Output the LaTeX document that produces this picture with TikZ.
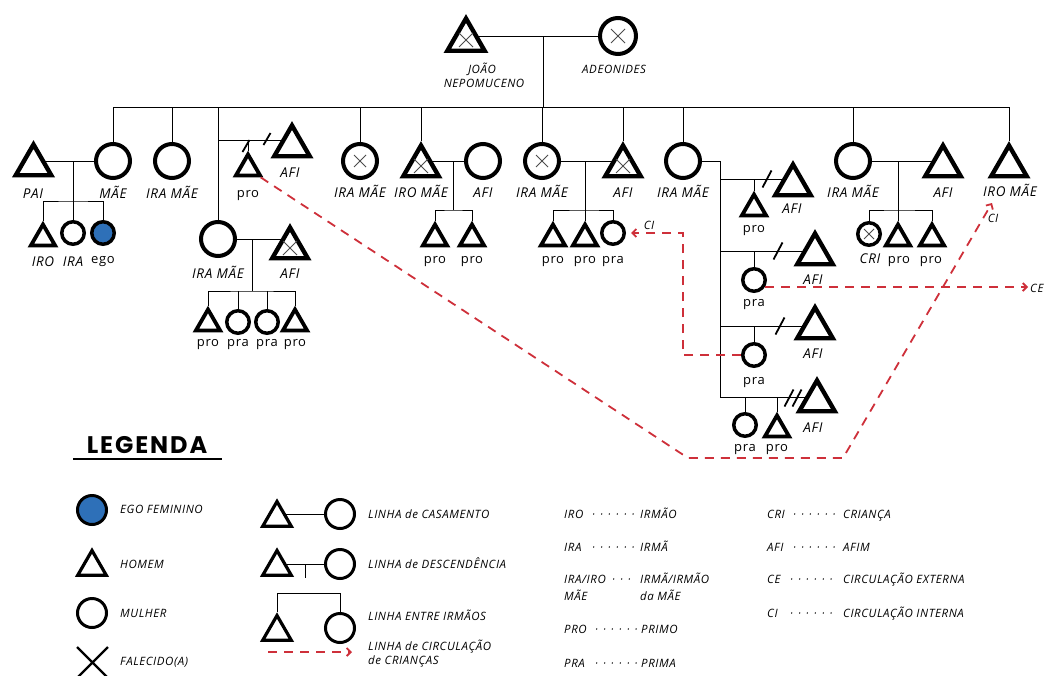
\documentclass[tikz,border=0pt]{standalone}
\usepackage{fontspec}
\setmainfont{Open Sans}
\newfontfamily\labfont{Open Sans}[LetterSpace=5]
\newfontfamily\legfont{Poppins}[LetterSpace=8]
\usetikzlibrary{shapes.geometric,arrows.meta,backgrounds}
\definecolor{egoblue}{RGB}{46,112,184}
\definecolor{circred}{RGB}{206,48,58}
\newcommand\labit{\labfont\itshape\fontsize{13.5}{15}\selectfont}
\newcommand\labup{\labfont\upshape\fontsize{13}{15}\selectfont}
\newcommand\labsm{\labfont\itshape\fontsize{11.5}{13}\selectfont}
\newcommand\legtx{\labfont\itshape\fontsize{11.5}{13}\selectfont}
\newcommand\mydotsix{·\kern5pt·\kern5pt·\kern5pt·\kern5pt·\kern5pt·}
\newcommand\mydotthree{·\kern5pt·\kern5pt·}
\newcommand\xcross[2]{\draw[xmk] ([shift={(-#2,-#2)}]#1.center) -- ([shift={(#2,#2)}]#1.center) ([shift={(-#2,#2)}]#1.center) -- ([shift={(#2,-#2)}]#1.center);}
\begin{document}
\begin{tikzpicture}[x=1pt,y=-1pt,
  man/.style={regular polygon, regular polygon sides=3, draw, fill=white, line width=4.4, minimum size=41, inner sep=0pt},
  sman/.style={man, line width=3.8, minimum size=28},
  woman/.style={circle, draw, fill=white, line width=4, minimum size=34, inner sep=0pt},
  swoman/.style={woman, line width=3.5, minimum size=22.5},
  legman/.style={man, line width=3.2, minimum size=33},
  legwoman/.style={woman, line width=3, minimum size=29},
  lbl/.style={inner sep=0pt, anchor=base, font=\labit},
  lblup/.style={lbl, font=\labup},
  legl/.style={inner sep=0pt, anchor=base west, font=\legtx},
  kin/.style={line width=1.8},
  flow/.style={draw=circred, line width=1.8, dash pattern=on 9pt off 7pt, -{Straight Barb[length=4pt,width=8pt]}},
  xmk/.style={line width=0.9, draw=black!70},
  slash/.style={line width=1.8}]
\useasboundingbox (0,0) rectangle (1048,675);

% ---------- top couple
\node[man, minimum size=43] (joao) at (466,40) {};
\node[woman, minimum size=36] (ade) at (618,36) {};
\node[lbl, font=\labsm] (ljoao1) at (482,73) {JOÃO};
\node[lbl, font=\labsm] (ljoao2) at (484,87.5) {NEPOMUCENO};
\node[lbl, font=\labsm] (lade) at (614,73) {ADEONIDES};
\coordinate (tc) at (543,36);
\coordinate (tb) at (543,107);

% ---------- family 1
\node[woman] (mae) at (113,161) {};
\node[man] (pai) at (33.5,165) {};
\node[sman] (iro1) at (43,238.5) {};
\node[swoman] (ira1) at (73,233) {};
\node[swoman, fill=egoblue] (ego) at (103,233) {};
\coordinate (m1) at (73,161);
\coordinate (d1) at (73,201);
\node[lbl] (lpai) at (33,198) {PAI};
\node[lbl] (lmae) at (113,198) {MÃE};
\node[lbl] (liro1) at (43,266) {IRO};
\node[lbl] (lira1) at (73,266) {IRA};
\node[lblup] (lego) at (103,263) {ego};

% ---------- family 2
\node[woman] (ira2) at (172,161) {};
\node[lbl] (lira2) at (172,198) {IRA MÃE};

% ---------- family 3
\node[woman] (ira3) at (218,239) {};
\node[man] (afi3) at (292,146) {};
\node[sman] (pro3) at (248,168.5) {};
\coordinate (s3) at (218,140);
\node[man] (afi3b) at (290,248) {};
\coordinate (m3) at (252,239);
\coordinate (d3) at (252,291);
\node[sman] (c3a) at (208,323.5) {};
\node[swoman] (c3b) at (238,322) {};
\node[swoman] (c3c) at (267,322) {};
\node[sman] (c3d) at (295,323.5) {};
\node[lbl] (lafi3) at (290,177) {AFI};
\node[lblup] (lpro3) at (248,197) {pro};
\node[lbl] (lira3) at (218,278) {IRA MÃE};
\node[lbl] (lafi3b) at (290,278) {AFI};
\node[lblup] (lc3a) at (208,346) {pro};
\node[lblup] (lc3b) at (238,346) {pra};
\node[lblup] (lc3c) at (267,346) {pra};
\node[lblup] (lc3d) at (295,346) {pro};

% ---------- family 4
\node[woman] (ira4) at (360,161) {};
\node[lbl] (lira4) at (360,197) {IRA MÃE};

% ---------- family 5
\node[man] (iro5) at (421,166) {};
\node[woman] (afi5) at (483,161) {};
\coordinate (m5) at (453,161);
\coordinate (d5) at (453,210);
\node[sman] (c5a) at (435,238.5) {};
\node[sman] (c5b) at (472,238.5) {};
\node[lbl] (liro5) at (421,197) {IRO MÃE};
\node[lbl] (lafi5) at (483,197) {AFI};
\node[lblup] (lc5a) at (435,263) {pro};
\node[lblup] (lc5b) at (472,263) {pro};

% ---------- family 6
\node[woman] (ira6) at (542,161) {};
\node[man] (afi6) at (623,166) {};
\coordinate (m6) at (585,161);
\coordinate (d6) at (585,210);
\node[sman] (c6a) at (553,238.5) {};
\node[sman] (c6b) at (585,238.5) {};
\node[swoman] (c6c) at (613,233) {};
\node[lbl] (lira6) at (542,197) {IRA MÃE};
\node[lbl] (lafi6) at (623,197) {AFI};
\node[lblup] (lc6a) at (553,263) {pro};
\node[lblup] (lc6b) at (585,263) {pro};
\node[lblup] (lc6c) at (613,263) {pra};
\node[lbl, font=\labsm] (lci6) at (649,229) {CI};

% ---------- family 7
\node[woman] (ira7) at (683,161) {};
\coordinate (v7) at (720,161);
\coordinate (b7a) at (720,179);
\coordinate (b7b) at (720,251);
\coordinate (b7c) at (720,326);
\coordinate (b7d) at (720,397);
\node[man] (afi7a) at (793,185) {};
\node[sman] (pro7a) at (754,208.5) {};
\node[man] (afi7b) at (815,254) {};
\node[swoman] (pra7b) at (754,280) {};
\node[man] (afi7c) at (815,328) {};
\node[swoman] (pra7c) at (754,355) {};
\node[man] (afi7d) at (817,401) {};
\node[swoman] (pra7d) at (745,425) {};
\node[sman] (pro7d) at (777,429.5) {};
\node[lbl] (lira7) at (683,197) {IRA MÃE};
\node[lbl] (lafi7a) at (792,213) {AFI};
\node[lblup] (lpro7a) at (754,232) {pro};
\node[lbl] (lafi7b) at (813,284) {AFI};
\node[lblup] (lpra7b) at (754,306) {pra};
\node[lbl] (lafi7c) at (813,358) {AFI};
\node[lblup] (lpra7c) at (754,384) {pra};
\node[lbl] (lafi7d) at (813,432) {AFI};
\node[lblup] (lpra7d) at (745,451) {pra};
\node[lblup] (lpro7d) at (777,451) {pro};

% ---------- family 8
\node[woman] (ira8) at (853,161) {};
\node[man] (afi8) at (943,166) {};
\coordinate (m8) at (898,161);
\coordinate (d8) at (898,210);
\node[swoman] (c8a) at (869,234) {};
\node[sman] (c8b) at (898,238.5) {};
\node[sman] (c8c) at (932,238.5) {};
\node[lbl] (lira8) at (853,197) {IRA MÃE};
\node[lbl] (lafi8) at (943,197) {AFI};
\node[lbl] (lc8a) at (870,263) {CRI};
\node[lblup] (lc8b) at (899,263) {pro};
\node[lblup] (lc8c) at (931,263) {pro};

% ---------- family 9
\node[man] (iro9) at (1009,166) {};
\node[lbl] (liro9) at (1010,196) {IRO MÃE};
\node[lbl, font=\labsm] (lci9) at (993,222) {CI};
\node[lbl, font=\labsm, anchor=base west] (lce) at (1030,292) {CE};

% ---------- kinship lines
\begin{scope}[on background layer, kin]
\draw (joao.center |- ade) -- (ade);
\draw (tc) -- (tb);
\draw (mae |- tb) -- (iro9 |- tb);
\foreach \n in {mae,ira2,ira3,ira4,iro5,ira6,afi6,ira7,ira8,iro9}
  \draw (\n) -- (\n |- tb);
\draw (pai.center |- mae) -- (mae);
\draw (m1) -- (d1);
\draw (iro1) |- (d1) -| (ego);
\draw (ira1) -- (ira1 |- d1);
\draw (s3) -- (s3 -| afi3);
\draw (pro3) -- (pro3 |- s3);
\draw (ira3) -- (ira3 -| afi3b);
\draw (m3) -- (d3);
\draw (c3a) |- (d3) -| (c3d);
\draw (c3b) -- (c3b |- d3);
\draw (c3c) -- (c3c |- d3);
\draw (iro5.center |- afi5) -- (afi5);
\draw (m5) -- (d5);
\draw (c5a) |- (d5) -| (c5b);
\draw (ira6) -- (afi6.center |- ira6);
\draw (m6) -- (d6);
\draw (c6a) |- (d6) -| (c6c);
\draw (c6b) -- (c6b |- d6);
\draw (ira7) -- (v7) -- (b7d);
\draw (b7a) -- (b7a -| afi7a);
\draw (pro7a) -- (pro7a |- b7a);
\draw (b7b) -- (b7b -| afi7b);
\draw (pra7b) -- (pra7b |- b7b);
\draw (b7c) -- (b7c -| afi7c);
\draw (pra7c) -- (pra7c |- b7c);
\draw (b7d) -- (b7d -| afi7d);
\draw (pra7d) -- (pra7d |- b7d);
\draw (pro7d) -- (pro7d |- b7d);
\draw (ira8) -- (afi8.center |- ira8);
\draw (m8) -- (d8);
\draw (c8a) |- (d8) -| (c8c);
\draw (c8b) -- (c8b |- d8);
\end{scope}

% separation slashes
\foreach \p in {(246,146),(267,139)}
  \draw[slash] \p ++(-3.5,6) -- ++(7,-12);
\foreach \p in {(767,179),(778,251),(780,326),(789,398),(797,398)}
  \draw[slash] \p ++(-4.5,8.5) -- ++(9,-17);

% deceased marks
\xcross{joao}{7}
\xcross{ade}{7}
\xcross{ira4}{6}
\xcross{iro5}{7}
\xcross{ira6}{6}
\xcross{afi6}{7}
\xcross{afi3b}{7}
\xcross{c8a}{5}

% ---------- circulation lines
\coordinate (ra1) at (688,458);
\coordinate (ra2) at (843,458);
\coordinate (ra3) at (992,203);
\draw[flow] (pro3.-35) -- (ra1) -- (ra2) -- (ra3);
\coordinate (rb1) at (683,355);
\coordinate (rb2) at (683,233);
\coordinate (rb3) at (631,233);
\draw[flow] (pra7c.west) -- (rb1) -- (rb2) -- (rb3);
\coordinate (rc) at (1028,287);
\draw[flow] (pra7b.-30 |- rc) -- (rc);

% ---------- legend
\node[inner sep=0pt, font=\legfont\bfseries\fontsize{24}{28}\selectfont] (leg) at (147,445) {LEGENDA};
\draw[line width=2.6] (73,459) -- (222,459);

\node[legwoman, fill=egoblue] (lgego) at (92,510) {};
\node[legman] (lghom) at (92,567) {};
\node[legwoman] (lgmul) at (92,613) {};
\draw[line width=2.4] (77,647) -- (108,678) (108,647) -- (77,678);
\node[legl] (tego) at (120,513) {EGO FEMININO};
\node[legl] (thom) at (120,568) {HOMEM};
\node[legl] (tmul) at (120,617) {MULHER};
\node[legl] (tfal) at (120,665) {FALECIDO(A)};

\node[legman] (lc1) at (277,518) {};
\node[legwoman] (lc2) at (340,514) {};
\node[legman] (ld1) at (277,567) {};
\node[legwoman] (ld2) at (340,564) {};
\coordinate (ldm) at (305,564);
\coordinate (ldb) at (305,578);
\node[legman] (li1) at (277,632) {};
\node[legwoman] (li2) at (340,628) {};
\coordinate (lib) at (308,593);
\begin{scope}[on background layer, line width=1.8]
\draw (lc1.center |- lc2) -- (lc2);
\draw (ld1.center |- ld2) -- (ld2);
\draw (ldm) -- (ldb);
\draw (li1) |- (lib) -| (li2);
\end{scope}
\coordinate (lca) at (268,652);
\coordinate (lcb) at (352,652);
\draw[flow] (lca) -- (lcb);
\node[legl] (tcas) at (368,518) {LINHA de CASAMENTO};
\node[legl] (tdes) at (368,568) {LINHA de DESCENDÊNCIA};
\node[legl] (tirm) at (368,620) {LINHA ENTRE IRMÃOS};
\node[legl] (tcir1) at (368,650) {LINHA de CIRCULAÇÃO};
\node[legl] (tcir2) at (368,664) {de CRIANÇAS};

% abbreviations
\node[legl] (a1) at (564,518) {IRO};
\node[legl] (a1d) at (592,518) {\mydotsix};
\node[legl] (a1m) at (640,518) {IRMÃO};
\node[legl] (a2) at (564,551) {IRA};
\node[legl] (a2d) at (592,551) {\mydotsix};
\node[legl] (a2m) at (640,551) {IRMÃ};
\node[legl] (a3) at (564,583) {IRA/IRO};
\node[legl] (a3b) at (564,600) {MÃE};
\node[legl] (a3d) at (612,583) {\mydotthree};
\node[legl] (a3m) at (640,583) {IRMÃ/IRMÃO};
\node[legl] (a3n) at (640,600) {da MÃE};
\node[legl] (a4) at (564,633) {PRO};
\node[legl] (a4d) at (595,633) {\mydotsix};
\node[legl] (a4m) at (641,633) {PRIMO};
\node[legl] (a5) at (564,667) {PRA};
\node[legl] (a5d) at (595,667) {\mydotsix};
\node[legl] (a5m) at (641,667) {PRIMA};
\node[legl] (b1) at (767,518) {CRI};
\node[legl] (b1d) at (793,518) {\mydotsix};
\node[legl] (b1m) at (843,518) {CRIANÇA};
\node[legl] (b2) at (767,551) {AFI};
\node[legl] (b2d) at (793,551) {\mydotsix};
\node[legl] (b2m) at (843,551) {AFIM};
\node[legl] (b3) at (767,583) {CE};
\node[legl] (b3d) at (790,583) {\mydotsix};
\node[legl] (b3m) at (843,583) {CIRCULAÇÃO EXTERNA};
\node[legl] (b4) at (767,617) {CI};
\node[legl] (b4d) at (790,617) {\mydotsix};
\node[legl] (b4m) at (843,617) {CIRCULAÇÃO INTERNA};
\end{tikzpicture}
\end{document}
